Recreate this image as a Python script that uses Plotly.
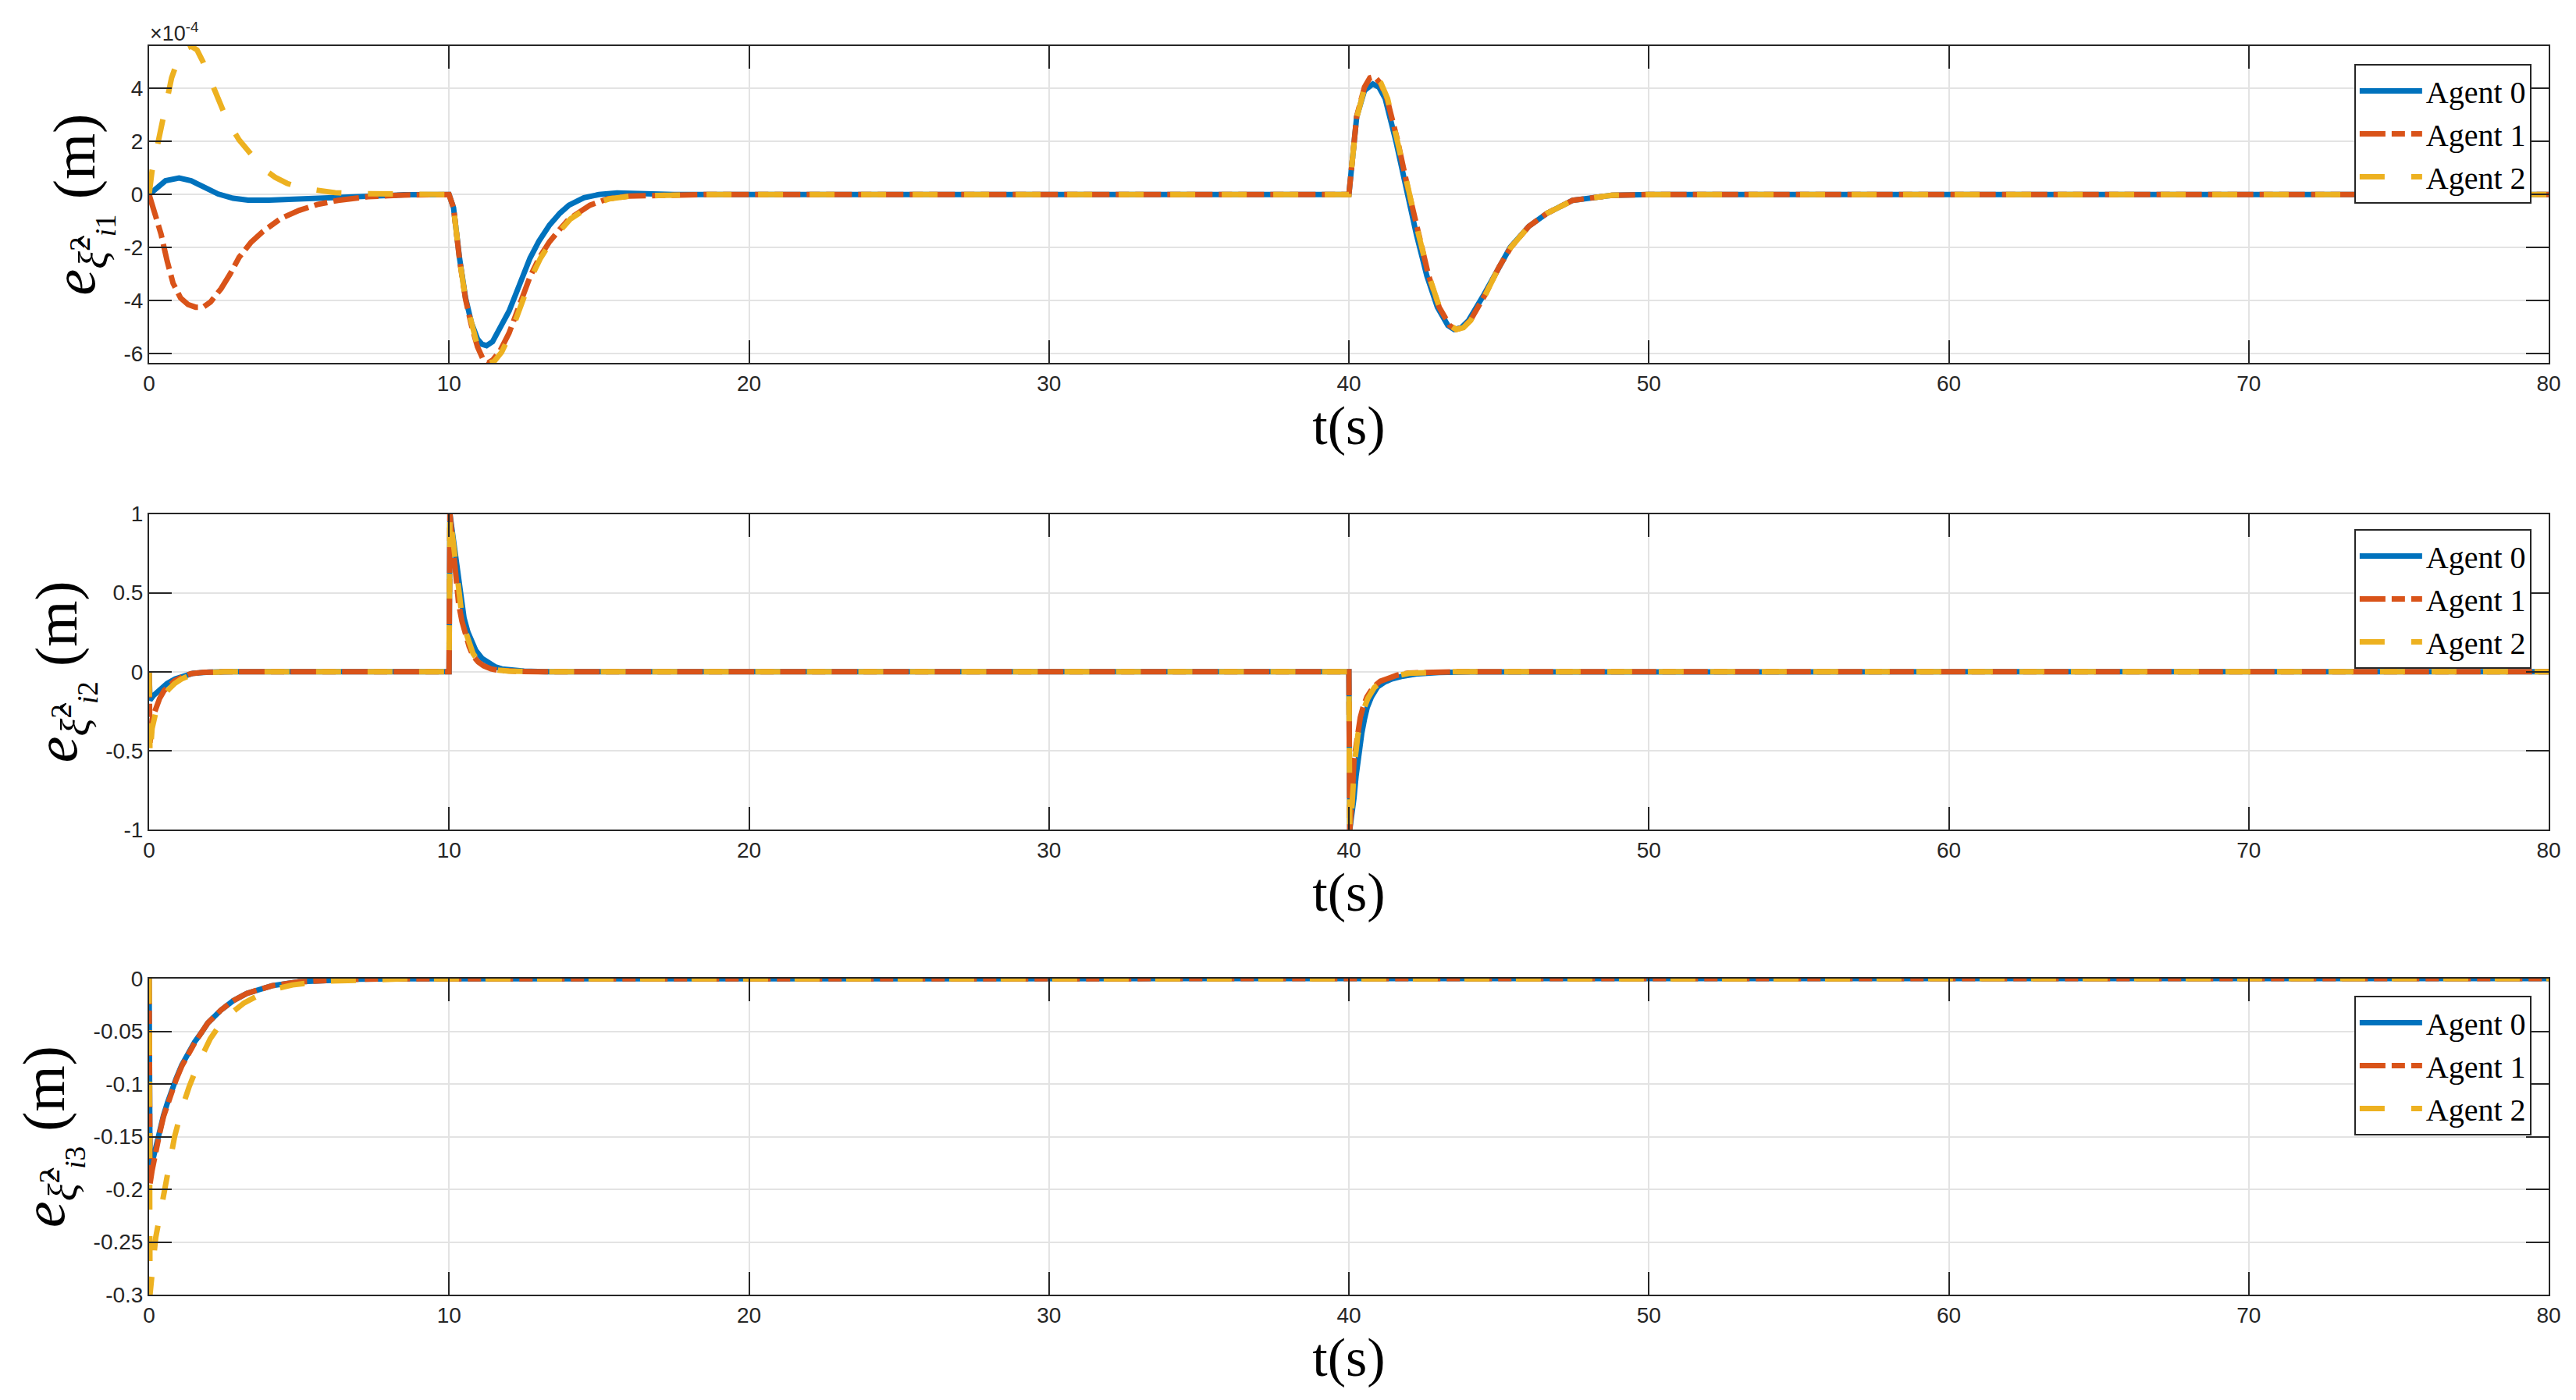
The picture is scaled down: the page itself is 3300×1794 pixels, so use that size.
import plotly.graph_objects as go

# ---------------- DATA ----------------
agents = ["Agent 0", "Agent 1", "Agent 2"]

# Panel 1 values are in units of 1e-4 m
p1_t_agent0 = [0, 0.25, 0.55, 1.0, 1.4, 1.8, 2.3, 2.8, 3.3, 4.0, 4.7, 5.5, 6.3, 7.3, 8.5, 10,
               10.15, 10.35, 10.55, 10.75, 10.95, 11.1, 11.25, 11.45, 11.7, 12.0, 12.35, 12.7, 13.0,
               13.35, 13.7, 14.0, 14.5, 15.0, 15.6, 16.3, 17.5,
               40, 40.1, 40.26, 40.52, 40.8, 41.0, 41.21, 41.56, 41.9, 42.25, 42.6, 42.95, 43.3,
               43.51, 43.75, 43.99, 44.51, 45.0, 45.38, 46.0, 46.6, 47.46, 48.76, 50, 80]
p1_v_agent0 = [0, 0.25, 0.52, 0.62, 0.52, 0.3, 0.02, -0.14, -0.21, -0.21, -0.18, -0.13, -0.08, -0.04, -0.01, 0,
               -0.5, -2.4, -3.9, -4.85, -5.45, -5.65, -5.7, -5.55, -5.05, -4.4, -3.4, -2.4, -1.75,
               -1.15, -0.7, -0.4, -0.12, 0.0, 0.06, 0.04, 0.0,
               0, 1.06, 2.93, 3.92, 4.17, 4.05, 3.62, 2.05, 0.27, -1.5, -3.07, -4.25, -4.94,
               -5.09, -5.02, -4.75, -3.76, -2.75, -1.99, -1.2, -0.71, -0.22, -0.03, 0, 0]

p1_t_agent1 = [0, 0.2, 0.4, 0.6, 0.8, 1.05, 1.3, 1.55, 1.8, 2.05, 2.4, 2.7, 3.0, 3.4, 3.8, 4.4, 5.0,
               5.6, 6.3, 7.3, 8.5, 10,
               10.15, 10.35, 10.55, 10.75, 10.95, 11.15, 11.3, 11.45, 11.7, 12.0, 12.35, 12.7, 13.0,
               13.35, 13.7, 14.0, 14.7, 15.3, 16.0, 17.0, 18.5,
               40, 40.1, 40.26, 40.52, 40.7, 40.85, 41.05, 41.27, 41.62, 41.96, 42.31, 42.66, 43.01,
               43.36, 43.57, 43.8, 44.05, 44.55, 45.0, 45.4, 46.0, 46.6, 47.46, 48.76, 50, 80]
p1_v_agent1 = [0, -0.75, -1.5, -2.5, -3.35, -3.9, -4.15, -4.25, -4.25, -4.05, -3.55, -3.0, -2.37, -1.8,
               -1.39, -0.9, -0.6, -0.38, -0.22, -0.08, -0.02, 0,
               -0.5, -2.45, -3.95, -4.95, -5.75, -6.25, -6.35, -6.25, -5.9, -5.23, -4.2, -3.1, -2.4,
               -1.78, -1.3, -0.92, -0.4, -0.16, -0.06, -0.02, 0,
               0, 1.06, 2.95, 4.05, 4.4, 4.45, 4.2, 3.62, 2.05, 0.27, -1.5, -3.07, -4.25,
               -4.94, -5.09, -5.02, -4.75, -3.76, -2.75, -1.99, -1.2, -0.71, -0.22, -0.03, 0, 0]

p1_t_agent2 = [0, 0.1, 0.25, 0.4, 0.55, 0.75, 1.0, 1.2, 1.4, 1.6, 1.8, 2.05, 2.3, 2.6, 3.0, 3.4, 3.8,
               4.2, 4.6, 5.1, 5.6, 6.2, 7.0, 8.0, 10,
               10.15, 10.35, 10.55, 10.75, 10.95, 11.15, 11.35, 11.5, 11.75, 12.05, 12.4, 12.75,
               13.05, 13.4, 13.75, 14.05, 14.75, 15.35, 16.05, 17.0, 18.5,
               40, 40.1, 40.26, 40.52, 40.7, 40.88, 41.07, 41.29, 41.63, 41.97, 42.32, 42.67, 43.02,
               43.37, 43.58, 43.82, 44.06, 44.56, 45.0, 45.4, 46.0, 46.6, 47.46, 48.76, 50, 80]
p1_v_agent2 = [0, 0.9, 1.7, 2.5, 3.4, 4.4, 5.2, 5.5, 5.6, 5.45, 5.0, 4.3, 3.55, 2.8, 2.06, 1.5, 0.98,
               0.65, 0.42, 0.24, 0.14, 0.07, 0.03, 0.01, 0,
               -0.5, -2.45, -3.95, -4.95, -5.72, -6.2, -6.35, -6.3, -5.95, -5.25, -4.2, -3.1,
               -2.4, -1.78, -1.3, -0.92, -0.4, -0.16, -0.06, -0.02, 0,
               0, 1.04, 2.9, 4.0, 4.35, 4.42, 4.2, 3.62, 2.05, 0.27, -1.5, -3.07, -4.25,
               -4.94, -5.09, -5.02, -4.75, -3.76, -2.75, -1.99, -1.2, -0.71, -0.22, -0.03, 0, 0]

# Panel 2 values (m)
p2_t_agent0 = [0, 0.03, 0.15, 0.36, 0.6, 0.87, 1.15, 1.47, 2.0, 2.8,
               10, 10.03, 10.1, 10.2, 10.28, 10.37, 10.5, 10.63, 10.76, 10.89, 11.1, 11.33, 11.55,
               11.76, 12.1, 12.5, 13.2,
               40, 40.03, 40.1, 40.17, 40.24, 40.3, 40.37, 40.43, 40.52, 40.61, 40.75, 40.96, 41.2,
               41.43, 41.8, 42.3, 43.0, 44.0, 80]
p2_v_agent0 = [0, -0.18, -0.15, -0.11, -0.075, -0.046, -0.027, -0.01, -0.003, 0,
               0, 1.0, 0.9, 0.76, 0.6, 0.46, 0.34, 0.25, 0.18, 0.135, 0.085, 0.053, 0.03,
               0.018, 0.009, 0.004, 0,
               0, -1.0, -0.92, -0.8, -0.66, -0.556, -0.46, -0.39, -0.3, -0.227, -0.16, -0.095, -0.065,
               -0.046, -0.028, -0.013, -0.005, -0.001, 0]

p2_t_agent1 = [0, 0.03, 0.1, 0.2, 0.35, 0.5, 0.66, 0.85, 1.08, 1.4, 1.8, 2.5,
               10, 10.03, 10.1, 10.2, 10.32, 10.43, 10.55, 10.67, 10.8, 10.97, 11.15, 11.4, 11.65,
               11.93, 12.4, 13.0,
               40, 40.03, 40.1, 40.17, 40.28, 40.38, 40.47, 40.6, 40.82, 41.05, 41.26, 41.6, 42.0,
               42.6, 43.5, 80]
p2_v_agent1 = [0, -0.45, -0.3, -0.24, -0.17, -0.12, -0.086, -0.058, -0.036, -0.012, -0.004, 0,
               0, 1.0, 0.86, 0.68, 0.43, 0.32, 0.235, 0.16, 0.10, 0.062, 0.038, 0.018, 0.009,
               0.005, 0.001, 0,
               0, -1.0, -0.84, -0.56, -0.39, -0.29, -0.227, -0.16, -0.095, -0.06, -0.046, -0.022, -0.008,
               -0.002, 0, 0]

p2_t_agent2 = [0, 0.03, 0.1, 0.22, 0.36, 0.5, 0.66, 0.85, 1.08, 1.4, 1.8, 2.5,
               10, 10.03, 10.1, 10.2, 10.32, 10.43, 10.55, 10.67, 10.8, 10.97, 11.15, 11.4, 11.65,
               12.0, 12.5, 13.2,
               40, 40.03, 40.1, 40.19, 40.3, 40.4, 40.5, 40.63, 40.85, 41.05, 41.3, 41.6, 42.0,
               42.6, 43.5, 80]
p2_v_agent2 = [0, -0.54, -0.36, -0.26, -0.19, -0.145, -0.11, -0.075, -0.046, -0.02, -0.006, 0,
               0, 1.0, 0.88, 0.72, 0.47, 0.35, 0.255, 0.18, 0.115, 0.07, 0.043, 0.021, 0.01,
               0.004, 0.001, 0,
               0, -1.0, -0.86, -0.58, -0.4, -0.3, -0.235, -0.17, -0.1, -0.068, -0.048, -0.025, -0.01,
               -0.003, 0, 0]

# Panel 3 values (m)
p3_t_agent0 = [0, 0.03, 0.1, 0.22, 0.35, 0.48, 0.61, 0.74, 0.9, 1.09, 1.3, 1.52, 1.75, 1.96, 2.39,
               2.8, 3.26, 3.7, 4.1, 5.0, 6.0, 7.0, 8.5, 80]
p3_v_agent0 = [0, -0.18, -0.175, -0.16, -0.145, -0.13, -0.118, -0.107, -0.095, -0.082, -0.071, -0.06,
               -0.051, -0.042, -0.030, -0.021, -0.014, -0.0095, -0.0067, -0.003, -0.0013, -0.0005,
               -0.0001, 0]
p3_t_agent1 = [0, 0.03, 0.1, 0.22, 0.35, 0.48, 0.61, 0.74, 0.9, 1.09, 1.3, 1.52, 1.75, 1.96, 2.39,
               2.8, 3.26, 3.7, 4.1, 5.0, 6.0, 7.0, 8.5, 80]
p3_v_agent1 = [0, -0.195, -0.182, -0.163, -0.147, -0.131, -0.119, -0.108, -0.096, -0.083, -0.071,
               -0.061, -0.051, -0.042, -0.030, -0.021, -0.014, -0.0095, -0.0067, -0.003, -0.0013,
               -0.0005, -0.0001, 0]
p3_t_agent2 = [0, 0.03, 0.22, 0.53, 0.85, 1.1, 1.33, 1.65, 2.04, 2.5, 3.17, 3.9, 4.78, 5.8, 7.0,
               8.5, 80]
p3_v_agent2 = [0, -0.3, -0.246, -0.198, -0.150, -0.123, -0.103, -0.080, -0.057, -0.038, -0.023,
               -0.012, -0.006, -0.0025, -0.001, -0.0002, 0]

x_ticks = [0, 10, 20, 30, 40, 50, 60, 70, 80]
p1_yticks = [-6, -4, -2, 0, 2, 4]
p1_yticktext = ["-6", "-4", "-2", "0", "2", "4"]
p2_yticks = [-1, -0.5, 0, 0.5, 1]
p2_yticktext = ["-1", "-0.5", "0", "0.5", "1"]
p3_yticks = [-0.3, -0.25, -0.2, -0.15, -0.1, -0.05, 0]
p3_yticktext = ["-0.3", "-0.25", "-0.2", "-0.15", "-0.1", "-0.05", "0"]

# ---------------- STYLE ----------------
colors = ["#0072BD", "#D95319", "#EDB120"]
dashes = ["solid", "33px,8px,17px,8px", "32px,34px"]
LW = 7
W, H = 3300, 1794
ML, MR, MT, MB = 191, 35, 59, 135
TICKFONT = dict(family="Liberation Sans, Arial, Helvetica", size=28, color="#262626")
SERIF = "Liberation Serif, Times New Roman, serif"
AXC = "#262626"

panels = [
    dict(t=[p1_t_agent0, p1_t_agent1, p1_t_agent2], v=[p1_v_agent0, p1_v_agent1, p1_v_agent2],
         rng=[-6.35, 5.6], tv=p1_yticks, tt=p1_yticktext, dom=[0.74625, 1.0], sub="i1",
         leg_y=0.9856),
    dict(t=[p2_t_agent0, p2_t_agent1, p2_t_agent2], v=[p2_v_agent0, p2_v_agent1, p2_v_agent2],
         rng=[-1, 1], tv=p2_yticks, tt=p2_yticktext, dom=[0.3725, 0.6253], sub="i2",
         leg_y=0.6131),
    dict(t=[p3_t_agent0, p3_t_agent1, p3_t_agent2], v=[p3_v_agent0, p3_v_agent1, p3_v_agent2],
         rng=[-0.3, 0], tv=p3_yticks, tt=p3_yticktext, dom=[0.0, 0.2531], sub="i3",
         leg_y=0.2394),
]

fig = go.Figure()
layout = dict(width=W, height=H, margin=dict(l=ML, r=MR, t=MT, b=MB),
              paper_bgcolor="white", plot_bgcolor="white", showlegend=True)

for k, p in enumerate(panels):
    n = "" if k == 0 else str(k + 1)
    legname = "legend" if k == 0 else "legend" + str(k + 1)
    for a in range(3):
        fig.add_trace(go.Scatter(
            x=p["t"][a], y=p["v"][a], mode="lines", name=agents[a],
            line=dict(color=colors[a], width=LW, dash=dashes[a]),
            xaxis="x" + n, yaxis="y" + n, legend=legname, showlegend=True))
    layout["xaxis" + n] = dict(
        domain=[0, 1], anchor="y" + n, range=[0, 80], tickvals=x_ticks,
        ticktext=[str(v) for v in x_ticks], ticks="inside", ticklen=29, tickwidth=2,
        tickcolor=AXC, showline=True, linecolor=AXC, linewidth=2, mirror="ticks",
        showgrid=True, gridcolor="#e3e3e3", gridwidth=2, zeroline=False,
        tickfont=TICKFONT, automargin=False,
        title=dict(text="t(s)", font=dict(family=SERIF, size=70, color="black"), standoff=2))
    layout["yaxis" + n] = dict(
        domain=p["dom"], anchor="x" + n, range=p["rng"], tickvals=p["tv"], ticktext=p["tt"],
        ticks="inside", ticklen=29, tickwidth=2, tickcolor=AXC, showline=True, linecolor=AXC,
        linewidth=2, mirror="ticks", showgrid=True, gridcolor="#e3e3e3", gridwidth=2,
        zeroline=False, tickfont=TICKFONT, automargin=False,
        title=dict(text="<i>e</i><sub><i>ξ̂</i><sup>2</sup><sub><i>" + p["sub"][0] + "</i>" + p["sub"][1] + "</sub></sub> (m)",
                   font=dict(family=SERIF, size=76, color="black"), standoff=12))
    layout[legname] = dict(
        x=0.9928, y=p["leg_y"], xanchor="right", yanchor="top", xref="paper", yref="paper",
        bgcolor="white", bordercolor=AXC, borderwidth=2,
        font=dict(family=SERIF, size=40, color="black"), itemwidth=80, tracegroupgap=0)

fig.update_layout(**layout)

fig.add_annotation(text="×10<sup>-4</sup>", xref="x domain", yref="y domain", x=0, y=1,
                   xanchor="left", yanchor="bottom", showarrow=False, borderpad=0,
                   font=dict(family="Liberation Sans, Arial, Helvetica", size=27, color="#262626"))

fig.write_html("out.html", config={"displayModeBar": False},
               post_script="document.body.style.margin='0';")
